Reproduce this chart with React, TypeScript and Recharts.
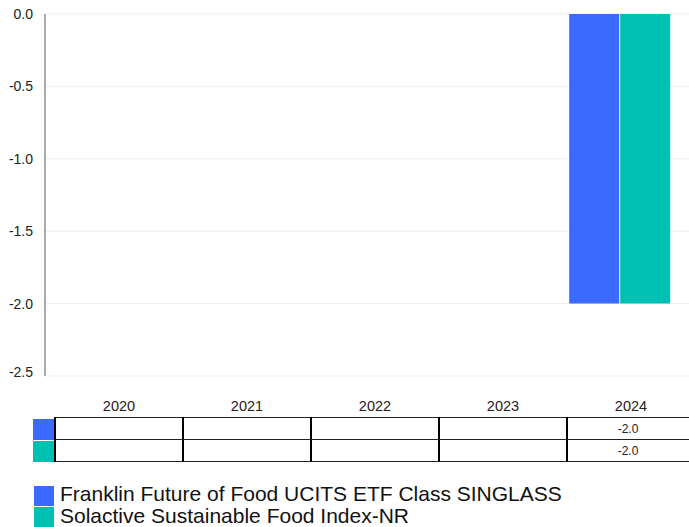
import React from "react";
import { BarChart, Bar, XAxis, YAxis, CartesianGrid } from "recharts";

const years = ["2020", "2021", "2022", "2023", "2024"];
const fundValues = [null, null, null, null, -2.0];
const indexValues = [null, null, null, null, -2.0];
const yTicks = [0, -0.5, -1, -1.5, -2, -2.5];

const fundName = "Franklin Future of Food UCITS ETF Class SINGLASS";
const indexName = "Solactive Sustainable Food Index-NR";
const fundColor = "#3a6aff";
const indexColor = "#00c0b3";

const data = years.map((year, i) => ({
  year,
  fund: fundValues[i],
  index: indexValues[i],
}));

const font = '"Liberation Sans", Arial, sans-serif';
const colLeft = 55;
const colWidth = 128;

function fmt(v: number | null) {
  return v === null ? "" : v.toFixed(1);
}

function TableRow({ top, color, values }: { top: number; color: string; values: (number | null)[] }) {
  return (
    <>
      <div style={{ position: "absolute", left: 33, top: top + 1, width: 21, height: 21, background: color }} />
      {values.map((v, i) => (
        <div
          key={i}
          style={{
            position: "absolute",
            left: colLeft + i * colWidth,
            top,
            width: i === values.length - 1 ? 689 - (colLeft + i * colWidth) : colWidth,
            height: 22,
            lineHeight: "22px",
            textAlign: "center",
            fontSize: 12,
            color: "#222",
          }}
        >
          {fmt(v)}
        </div>
      ))}
    </>
  );
}

export default function App() {
  return (
    <div
      style={{
        position: "absolute",
        left: 0,
        top: 0,
        width: 689,
        height: 527,
        overflow: "hidden",
        background: "#fff",
        fontFamily: font,
      }}
    >
      <BarChart
        width={689}
        height={380}
        data={data}
        margin={{ top: 14, right: 0, left: 0, bottom: 4 }}
        barGap={1}
        barCategoryGap={13}
      >
        <CartesianGrid horizontal vertical={false} stroke="#eeeeee" />
        <XAxis dataKey="year" hide padding={{ left: 0, right: 5 }} />
        <YAxis
          width={45}
          domain={[-2.5, 0]}
          ticks={yTicks}
          tickFormatter={(v: number) => v.toFixed(1)}
          axisLine={{ stroke: "#aaaaaa", strokeWidth: 2 }}
          tickLine={false}
          tickSize={0}
          tickMargin={12}
          tick={{ fontSize: 14, fill: "#222", fontFamily: font }}
        />
        <Bar dataKey="fund" fill={fundColor} isAnimationActive={false} />
        <Bar dataKey="index" fill={indexColor} isAnimationActive={false} />
      </BarChart>

      {/* table under the chart */}
      {years.map((y, i) => (
        <div
          key={y}
          style={{
            position: "absolute",
            left: colLeft + i * colWidth,
            top: 395,
            width: colWidth,
            height: 22,
            lineHeight: "22px",
            textAlign: "center",
            fontSize: 14.5,
            color: "#222",
          }}
        >
          {y}
        </div>
      ))}
      {[418, 440, 462].map((t) => (
        <div key={t} style={{ position: "absolute", left: colLeft, top: t - 1, width: 689 - colLeft, height: 1, background: "#222" }} />
      ))}
      {years.map((y, i) => (
        <div
          key={"v" + y}
          style={{ position: "absolute", left: colLeft + i * colWidth - 1, top: 417, width: 2, height: 45, background: "#000" }}
        />
      ))}
      <TableRow top={418} color={fundColor} values={fundValues} />
      <TableRow top={440} color={indexColor} values={indexValues} />

      {/* legend */}
      <div style={{ position: "absolute", left: 34, top: 486, width: 20, height: 20, background: fundColor }} />
      <div style={{ position: "absolute", left: 34, top: 507, width: 20, height: 20, background: indexColor }} />
      <div style={{ position: "absolute", left: 60, top: 484, fontSize: 21, lineHeight: "20px", color: "#111", whiteSpace: "nowrap" }}>
        {fundName}
      </div>
      <div style={{ position: "absolute", left: 60, top: 506, fontSize: 21, lineHeight: "20px", color: "#111", whiteSpace: "nowrap" }}>
        {indexName}
      </div>
    </div>
  );
}
